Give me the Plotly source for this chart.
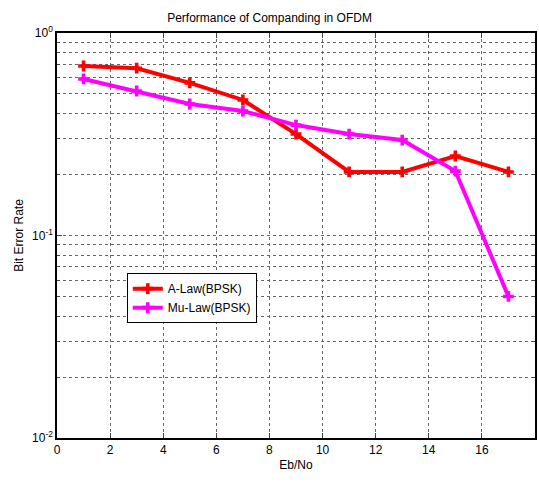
import plotly.graph_objects as go

ebno = [1, 3, 5, 7, 9, 11, 13, 15, 17]
a_law = [0.687, 0.67, 0.567, 0.467, 0.317, 0.206, 0.206, 0.247, 0.206]
mu_law = [0.593, 0.517, 0.446, 0.412, 0.351, 0.317, 0.296, 0.208, 0.05]
y_tickvals = [1, 0.1, 0.01]
y_ticktext = ["10<sup>0</sup>", "10<sup>-1</sup>", "10<sup>-2</sup>"]
x_tickvals = [0, 2, 4, 6, 8, 10, 12, 14, 16, 18]

font = "Liberation Sans, Arial, sans-serif"

fig = go.Figure()
fig.add_trace(go.Scatter(x=ebno, y=a_law, mode="lines+markers", name="A-Law(BPSK)",
                         line=dict(color="#FF0000", width=4),
                         marker=dict(symbol="cross", size=9, color="#FF0000")))
fig.add_trace(go.Scatter(x=ebno, y=mu_law, mode="lines+markers", name="Mu-Law(BPSK)",
                         line=dict(color="#FF00FF", width=4),
                         marker=dict(symbol="cross", size=9, color="#FF00FF")))

grid = dict(showgrid=True, gridcolor="#666", griddash="dot", gridwidth=1)

fig.update_layout(
    width=539, height=483,
    margin=dict(l=57, r=4, t=33, b=45, autoexpand=False),
    paper_bgcolor="white", plot_bgcolor="white",
    font=dict(family=font, size=12, color="black"),
    title=dict(text="Performance of Companding in OFDM", x=0.5, xanchor="center",
               y=1 - 18 / 483, yanchor="middle", font=dict(size=12)),
    showlegend=True,
    legend=dict(x=0.146, y=0.407, xanchor="left", yanchor="top",
                bgcolor="white", bordercolor="black", borderwidth=1,
                font=dict(size=12), tracegroupgap=0, itemwidth=30),
    xaxis=dict(range=[0, 18], tickvals=x_tickvals, ticks="inside", ticklen=5,
               showline=True, linecolor="black", linewidth=1.5, mirror="ticks",
               automargin=False,
               title=dict(text="Eb/No", standoff=4, font=dict(size=12)),
               tickfont=dict(size=12), zeroline=False, **grid),
    yaxis=dict(type="log", range=[-2, 0], tickvals=y_tickvals, ticktext=y_ticktext,
               ticks="inside", ticklen=5, automargin=False,
               showline=True, linecolor="black", linewidth=1.5, mirror="ticks",
               title=dict(text="Bit Error Rate", standoff=6, font=dict(size=12)),
               tickfont=dict(size=12), zeroline=False,
               minor=dict(dtick="D1", ticks="inside", ticklen=3, showgrid=True,
                          gridcolor="#666", griddash="dot", gridwidth=1),
               **grid),
)

post = ("document.body.style.margin='0';"
        "document.body.style.padding='0';"
        "document.body.style.overflow='hidden';")
fig.write_html("out.html", post_script=post)
